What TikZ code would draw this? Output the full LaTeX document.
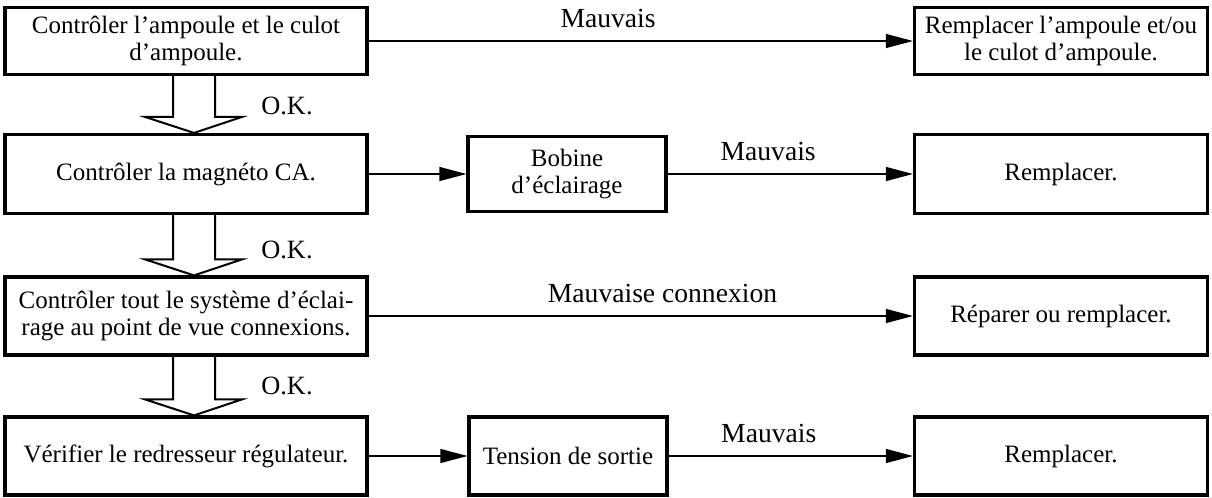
\documentclass[tikz,border=0pt]{standalone}
\usepackage{fontspec}
\setmainfont{Liberation Serif}
\usepackage{tikz}
\usetikzlibrary{arrows.meta,positioning,calc}

\begin{document}
\begin{tikzpicture}[x=0.5pt,y=-0.5pt,font=\fontsize{12.5}{13.6}\selectfont,
  box/.style={draw,line width=1.6pt,align=center,inner sep=0pt},
  flow/.style={line width=0.6pt,-{Triangle[length=13.5pt,width=7pt]}},
  lbl/.style={above=6.5pt,inner sep=0pt,font=\fontsize{13.8}{14}\selectfont},
  okarrow/.style={line width=1pt,line join=miter}]
  \useasboundingbox (0,0) rectangle (1212,498);
  \node[box,minimum width=181pt,minimum height=33.5pt] (lamp) at (186,41) {Contrôler l'ampoule et le culot\\d'ampoule.};
  \node[box,minimum width=181pt,minimum height=39.5pt] (magneto) at (186,174) {Contrôler la magnéto CA.};
  \node[box,minimum width=181pt,minimum height=39pt] (wiring) at (186,316) {Contrôler tout le système d'éclai-\\rage au point de vue connexions.};
  \node[box,minimum width=181pt,minimum height=39pt] (regulator) at (186,456) {Vérifier le redresseur régulateur.};
  \node[box,minimum width=99pt,minimum height=37.5pt] (coil) at (567,174) {Bobine\\d'éclairage};
  \node[box,minimum width=99pt,minimum height=39pt] (voltage) at (568,456) {Tension de sortie};
  \node[box,minimum width=146.5pt,minimum height=33.5pt] (replace1) at (1061,41) {Remplacer l'ampoule et/ou\\le culot d'ampoule.};
  \node[box,minimum width=146.5pt,minimum height=39.5pt] (replace2) at (1061,174) {Remplacer.};
  \node[box,minimum width=146.5pt,minimum height=39pt] (repair) at (1061,316) {Réparer ou remplacer.};
  \node[box,minimum width=146.5pt,minimum height=39pt] (replace4) at (1061,456) {Remplacer.};
  \foreach \from/\to in {lamp/magneto,magneto/wiring,wiring/regulator}
    \draw[okarrow] ($(\from.south)+(-13,0)$) -- ($(\to.north)+(-13,-16)$) -- ($(\to.north)+(-41,-16)$)
      -- ($(\to.north)+(8,0)$) -- ($(\to.north)+(56,-16)$) -- ($(\to.north)+(29,-16)$) -- ($(\from.south)+(29,0)$);
  \node[font=\fontsize{13.2}{14}\selectfont] (ok1) at (287,106) {O.K.};
  \node[font=\fontsize{13.2}{14}\selectfont] (ok2) at (287,250) {O.K.};
  \node[font=\fontsize{13.2}{14}\selectfont] (ok3) at (287,386) {O.K.};
  \draw[flow] (lamp) -- node[lbl,pos=0.44] {Mauvais} (replace1);
  \draw[flow] (magneto) -- (coil);
  \draw[flow] (coil) -- node[lbl,pos=0.41] {Mauvais} (replace2);
  \draw[flow] (wiring) -- node[lbl,pos=0.54] {Mauvaise connexion} (repair);
  \draw[flow] (regulator) -- (voltage);
  \draw[flow] (voltage) -- node[lbl,pos=0.41] {Mauvais} (replace4);
\end{tikzpicture}
\end{document}
